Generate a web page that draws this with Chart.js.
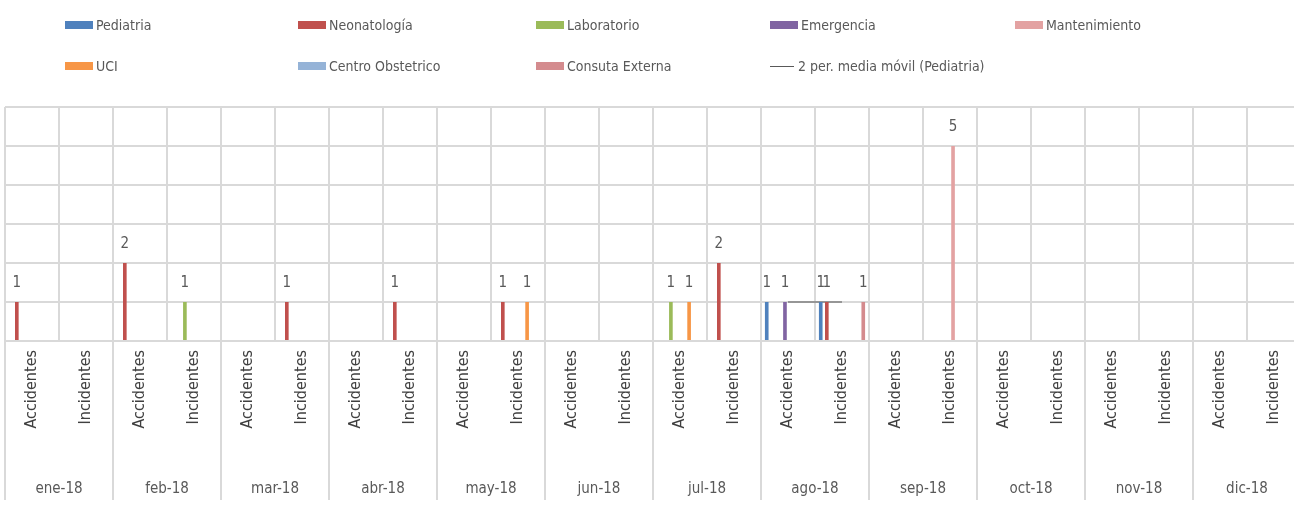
<!DOCTYPE html>
<html>
<head>
<meta charset="utf-8">
<title>Accidentes e Incidentes 2018</title>
<script src="https://cdn.jsdelivr.net/npm/chart.js"></script>
<style>
    body { margin: 0; overflow: hidden; background: #fff; }
    #wrap { position: relative; width: 1302px; height: 508px; }
    #legend { position: absolute; left: 0; top: 0; width: 100%; height: 95px;
              font: 14px "Liberation Sans Narrow", "DejaVu Sans Condensed", sans-serif; color: #595959; }
    .item { position: absolute; display: flex; align-items: center; white-space: nowrap; transform: translateY(-50%); }
    .sw { width: 28px; height: 8px; margin-right: 3px; }
    .ln { width: 24px; height: 0; border-top: 1.5px solid #595959; margin-right: 4px; }
</style>
</head>
<body>
<div id="wrap">
    <canvas id="chart" width="1302" height="508"></canvas>
    <div id="legend"></div>
</div>
<script>
// --- Data ---
const months = ['ene-18', 'feb-18', 'mar-18', 'abr-18', 'may-18', 'jun-18',
                'jul-18', 'ago-18', 'sep-18', 'oct-18', 'nov-18', 'dic-18'];
const tipos = ['Accidentes', 'Incidentes'];
const categorias = months.flatMap(() => tipos); // 24 sub-categories

const _ = null;
//                 ene    feb    mar    abr    may    jun    jul    ago    sep    oct    nov    dic
const pediatria = [_, _,  _, _,  _, _,  _, _,  _, _,  _, _,  _, _,  1, 1,  _, _,  _, _,  _, _,  _, _];
const neonatologia = [1, _,  2, _,  _, 1,  _, 1,  _, 1,  _, _,  _, 2,  _, 1,  _, _,  _, _,  _, _,  _, _];
const laboratorio = [_, _,  _, 1,  _, _,  _, _,  _, _,  _, _,  1, _,  _, _,  _, _,  _, _,  _, _,  _, _];
const emergencia = [_, _,  _, _,  _, _,  _, _,  _, _,  _, _,  _, _,  1, _,  _, _,  _, _,  _, _,  _, _];
const mantenimiento = [_, _,  _, _,  _, _,  _, _,  _, _,  _, _,  _, _,  _, _,  _, 5,  _, _,  _, _,  _, _];
const uci = [_, _,  _, _,  _, _,  _, _,  _, 1,  _, _,  1, _,  _, _,  _, _,  _, _,  _, _,  _, _];
const centroObstetrico = [_, _,  _, _,  _, _,  _, _,  _, _,  _, _,  _, _,  _, _,  _, _,  _, _,  _, _,  _, _];
const consultaExterna = [_, _,  _, _,  _, _,  _, _,  _, _,  _, _,  _, _,  _, 1,  _, _,  _, _,  _, _,  _, _];
const mediaMovil = [_, _,  _, _,  _, _,  _, _,  _, _,  _, _,  _, _,  1, 1,  _, _,  _, _,  _, _,  _, _];

const seriesNames = ['Pediatria', 'Neonatología', 'Laboratorio', 'Emergencia', 'Mantenimiento',
                     'UCI', 'Centro Obstetrico', 'Consuta Externa'];
const seriesData = [pediatria, neonatologia, laboratorio, emergencia, mantenimiento,
                    uci, centroObstetrico, consultaExterna];
const seriesColors = ['#4F81BD', '#C0504D', '#9BBB59', '#8064A2', '#E3A2A2',
                      '#F79646', '#95B3D7', '#D48B8E'];
const lineName = '2 per. media móvil (Pediatria)';

const FONT = '"Liberation Sans Narrow", "DejaVu Sans Condensed", sans-serif';
const TEXT = '#595959';
const GRID = '#d9d9d9';

// value labels above the bars
const valueLabels = {
    id: 'valueLabels',
    afterDatasetsDraw(chart) {
        const ctx = chart.ctx;
        ctx.save();
        ctx.font = '15px ' + FONT;
        ctx.fillStyle = TEXT;
        ctx.textAlign = 'center';
        ctx.textBaseline = 'middle';
        chart.data.datasets.forEach((ds, i) => {
            if (ds.type === 'line') return;
            chart.getDatasetMeta(i).data.forEach((el, j) => {
                const v = ds.data[j];
                if (v == null) return;
                ctx.fillText(String(v), el.x, el.y - 19);
            });
        });
        ctx.restore();
    }
};

// month separators running down through the label area
const monthLines = {
    id: 'monthLines',
    afterDraw(chart) {
        const xs = chart.scales.x;
        const ctx = chart.ctx;
        ctx.save();
        ctx.strokeStyle = GRID;
        ctx.lineWidth = 2;
        for (let m = 0; m <= months.length; m++) {
            const px = xs.left + (xs.right - xs.left) * m / months.length;
            ctx.beginPath();
            ctx.moveTo(px, chart.chartArea.bottom);
            ctx.lineTo(px, chart.height - 8);
            ctx.stroke();
        }
        ctx.restore();
    }
};

const datasets = seriesNames.map((name, i) => ({
    type: 'bar',
    label: name,
    data: seriesData[i],
    backgroundColor: seriesColors[i],
    categoryPercentage: 0.9,
    barPercentage: 0.6
}));
datasets.push({
    type: 'line',
    label: lineName,
    data: mediaMovil,
    borderColor: '#7f7f7f',
    borderWidth: 1.5,
    pointRadius: 0,
    fill: false
});

new Chart(document.getElementById('chart'), {
    type: 'bar',
    data: { labels: categorias, datasets },
    options: {
        responsive: false,
        animation: false,
        layout: { padding: { top: 107, left: 5, right: 1, bottom: 0 } },
        plugins: { legend: { display: false }, tooltip: { enabled: false } },
        scales: {
            x: {
                grid: { offset: true, color: GRID, lineWidth: 2, drawTicks: false },
                border: { display: false },
                ticks: { autoSkip: false, minRotation: 90, maxRotation: 90, padding: 9,
                         color: '#404040', font: { family: FONT, size: 16 } },
                afterFit(s) { s.height = 88; s.paddingLeft = 0; s.paddingRight = 0; }
            },
            x2: {
                type: 'category',
                labels: months,
                position: 'bottom',
                offset: true,
                grid: { display: false },
                border: { display: false },
                ticks: { padding: 43, color: TEXT, font: { family: FONT, size: 15 } },
                afterFit(s) { s.height = 79; s.paddingLeft = 0; s.paddingRight = 0; }
            },
            y: {
                min: 0, max: 6,
                ticks: { display: false, stepSize: 1 },
                grid: { color: GRID, lineWidth: 2, drawTicks: false },
                border: { display: false },
                afterFit(s) { s.width = 0; s.paddingTop = 0; s.paddingBottom = 0; }
            }
        }
    },
    plugins: [valueLabels, monthLines]
});

// legend laid out in Excel-like columns
const legendCols = [65, 298, 536, 770, 1015];
const legendRows = [25, 66];
const legend = document.getElementById('legend');
seriesNames.concat([lineName]).forEach((name, i) => {
    const item = document.createElement('div');
    item.className = 'item';
    item.style.left = legendCols[i % 5] + 'px';
    item.style.top = legendRows[Math.floor(i / 5)] + 'px';
    const mark = document.createElement('span');
    if (i < seriesNames.length) {
        mark.className = 'sw';
        mark.style.background = seriesColors[i];
    } else {
        mark.className = 'ln';
    }
    item.appendChild(mark);
    item.appendChild(document.createTextNode(name));
    legend.appendChild(item);
});
</script>
</body>
</html>
